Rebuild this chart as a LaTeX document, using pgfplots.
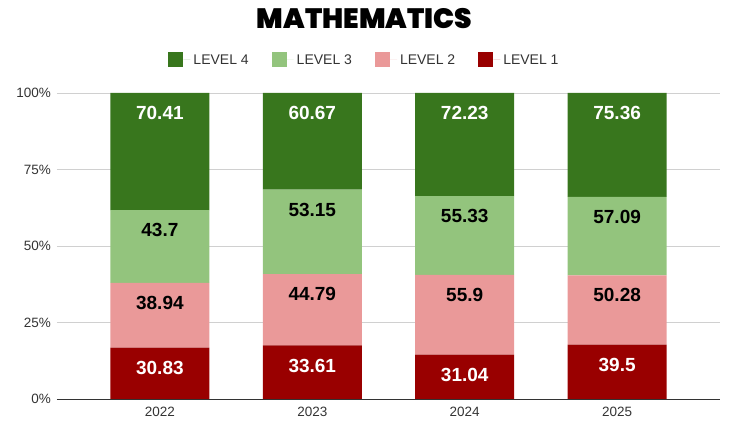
\documentclass[border=0pt]{standalone}
\usepackage{pgfplots}
\pgfplotsset{compat=1.18}
\usepackage{pgfplotstable}
\usepackage{fontspec}
\setmainfont{Liberation Sans}
\newfontfamily\titlefont{Poppins Black}
\definecolor{lfour}{HTML}{38761D}
\definecolor{lthree}{HTML}{93C47D}
\definecolor{ltwo}{HTML}{EA9999}
\definecolor{lone}{HTML}{990000}
\definecolor{gridc}{HTML}{D0D0D0}
\definecolor{txt}{HTML}{333333}
% p = share of the bar (%), r = value shown in the label
\pgfplotstableread{
x p1 p2 p3 p4 r1 r2 r3 r4
0 16.77 21.18 23.77 38.28 30.83 38.94 43.7 70.41
1 17.49 23.30 27.65 31.56 33.61 44.79 53.15 60.67
2 14.47 26.06 25.80 33.67 31.04 55.9 55.33 72.23
3 17.77 22.63 25.69 33.91 39.5 50.28 57.09 75.36
}\data
\begin{document}
\begin{tikzpicture}
\useasboundingbox (0,0) rectangle (729pt,425pt);
\begin{axis}[
  at={(57pt,26pt)}, anchor=south west,
  scale only axis, width=663pt, height=306pt,
  ybar stacked, bar width=0.65,
  xmin=-0.675, xmax=3.675, ymin=0, ymax=100,
  xtick={0,1,2,3}, xticklabels={2022,2023,2024,2025},
  ytick={0,25,50,75,100},
  yticklabel={\pgfmathprintnumber{\tick}\%},
  /pgf/number format/assume math mode=true,
  ymajorgrids, grid style={draw=gridc, line width=0.8pt},
  axis x line*=bottom, axis y line*=left,
  y axis line style={draw=none},
  x axis line style={draw=txt, line width=0.8pt},
  major tick length=0pt, tick style={draw=none},
  ticklabel style={font=\fontsize{13.5}{15}\selectfont, text=txt},
  yticklabel style={xshift=-2.5pt},
  xticklabel style={yshift=-5pt},
  legend columns=4,
  legend image code/.code={\fill[#1] (0pt,-7.5pt) rectangle (15pt,7.5pt);
    \path (15pt,0pt) -- (22pt,0pt);},
  legend style={at={(0.4638,1.108)}, anchor=center, draw=none, fill=none,
    font=\fontsize{14}{16}\selectfont, text=txt,
    /tikz/every odd column/.append style={column sep=1pt},
    /tikz/every even column/.append style={column sep=21pt}},
  point meta=explicit symbolic,
  nodes near coords,
  every node near coord/.append style={anchor=center,
    shift={(axis direction cs:0,\h/2)}, yshift=-20pt,
    font=\fontsize{19}{21}\selectfont\bfseries},
]
\addlegendimage{fill=lfour, draw=none}\addlegendentry{LEVEL 4}
\addlegendimage{fill=lthree, draw=none}\addlegendentry{LEVEL 3}
\addlegendimage{fill=ltwo, draw=none}\addlegendentry{LEVEL 2}
\addlegendimage{fill=lone, draw=none}\addlegendentry{LEVEL 1}
\addplot[fill=lone, draw=none, visualization depends on={\thisrow{p1} \as \h},
  every node near coord/.append style={text=white}]
  table[x=x, y=p1, meta=r1] {\data};
\addplot[fill=ltwo, draw=none, visualization depends on={\thisrow{p2} \as \h},
  every node near coord/.append style={text=black}]
  table[x=x, y=p2, meta=r2] {\data};
\addplot[fill=lthree, draw=none, visualization depends on={\thisrow{p3} \as \h},
  every node near coord/.append style={text=black}]
  table[x=x, y=p3, meta=r3] {\data};
\addplot[fill=lfour, draw=none, visualization depends on={\thisrow{p4} \as \h},
  every node near coord/.append style={text=white}]
  table[x=x, y=p4, meta=r4] {\data};
\end{axis}
\node[font=\titlefont\fontsize{28}{31}\selectfont] at (364.5pt,406pt) {MATHEMATICS};
\end{tikzpicture}
\end{document}
